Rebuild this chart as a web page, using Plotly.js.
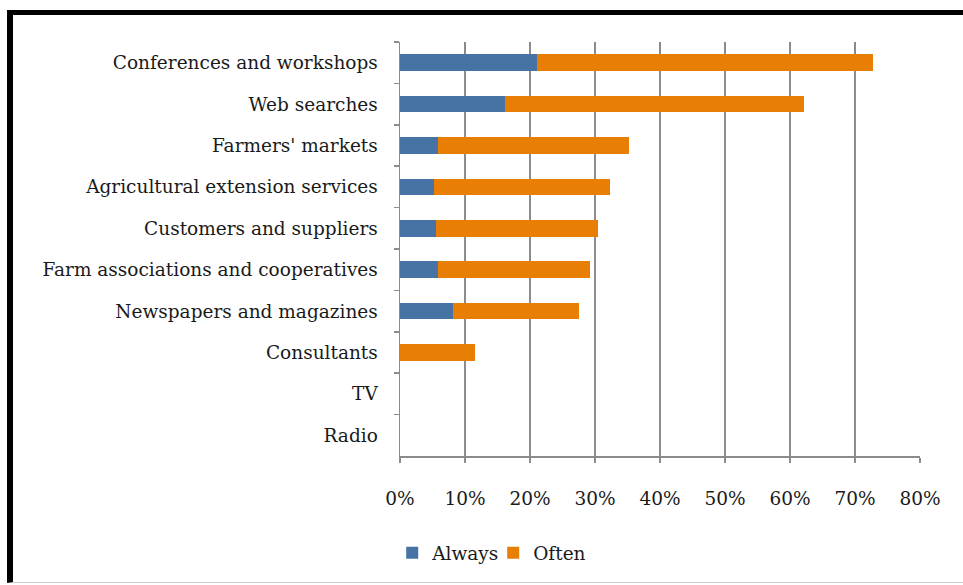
<!DOCTYPE html>
<html>
<head>
<meta charset="utf-8">
<script src="https://cdn.plot.ly/plotly-3.0.1.min.js"></script>
<style>
  html, body { margin: 0; padding: 0; background: #fff; overflow: hidden; }
  #wrap { position: relative; width: 963px; height: 585px; }
  #frame { position: absolute; left: 7px; top: 10px; width: 1000px; height: 573px;
           border-top: 5px solid #000; border-left: 6px solid #000; border-bottom: 1px solid #ccc; box-sizing: border-box; }
  #chart { position: absolute; left: 0; top: 0; width: 963px; height: 585px; }
</style>
</head>
<body>
<div id="wrap">
  <div id="frame"></div>
  <div id="chart"></div>
</div>
<script>
const categories = [
  "Conferences and workshops",
  "Web searches",
  "Farmers' markets",
  "Agricultural extension services",
  "Customers and suppliers",
  "Farm associations and cooperatives",
  "Newspapers and magazines",
  "Consultants",
  "TV",
  "Radio"
];
const always = [0.211, 0.161, 0.058, 0.053, 0.055, 0.058, 0.082, 0, 0, 0];
const often  = [0.516, 0.460, 0.294, 0.270, 0.250, 0.235, 0.194, 0.116, 0, 0];
const seriesNames = ["Always", "Often"];
const xTickVals = [0, 0.1, 0.2, 0.3, 0.4, 0.5, 0.6, 0.7, 0.8];
const xTickText = ["0%", "10%", "20%", "30%", "40%", "50%", "60%", "70%", "80%"];

const font = { family: "DejaVu Serif, serif", size: 18.5, color: "#1a1a1a" };

const traces = [
  { type: "bar", orientation: "h", name: seriesNames[0], y: categories, x: always,
    marker: { color: "#4672A4" }, hoverinfo: "x+y" },
  { type: "bar", orientation: "h", name: seriesNames[1], y: categories, x: often,
    marker: { color: "#E87E04" }, hoverinfo: "x+y" }
];

const layout = {
  width: 963, height: 585,
  paper_bgcolor: "rgba(0,0,0,0)", plot_bgcolor: "rgba(0,0,0,0)",
  font: font,
  barmode: "stack", bargap: 0.6,
  margin: { l: 400, r: 43, t: 42, b: 129 },
  xaxis: {
    range: [0, 0.8], tickvals: xTickVals, ticktext: xTickText,
    showgrid: true, gridcolor: "#8c8c8c", gridwidth: 1.5,
    showline: true, linecolor: "#8c8c8c", linewidth: 1.5,
    ticks: "outside", ticklen: 5, tickcolor: "#8c8c8c", tickwidth: 1.5,
    ticklabelstandoff: 20, zeroline: false, fixedrange: true
  },
  yaxis: {
    type: "category", autorange: "reversed",
    showline: true, linecolor: "#8c8c8c", linewidth: 1.5,
    ticks: "outside", ticklen: 5, tickcolor: "#8c8c8c", tickwidth: 1.5,
    tickson: "boundaries", ticklabelstandoff: 17, showgrid: false, fixedrange: true
  },
  showlegend: true,
  legend: { orientation: "h", x: -0.015, xanchor: "left", y: -0.235, yanchor: "middle",
            font: font, traceorder: "normal", entrywidth: 56, itemwidth: 30 }
};

Plotly.newPlot("chart", traces, layout, { displayModeBar: false, staticPlot: true });
</script>
</body>
</html>
